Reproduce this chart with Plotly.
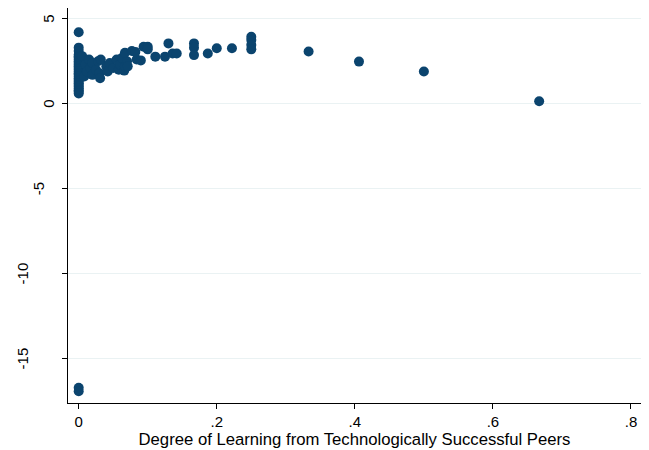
import plotly.graph_objects as go

# x: degree of learning from technologically successful peers; y: outcome
x0_vals = [0.0] * 29
y0_vals = [4.2, 3.3, 3.1, 2.9, 2.8, 2.7, 2.6, 2.5, 2.4, 2.3, 2.2, 2.1, 2.0, 1.9,
           1.8, 1.7, 1.6, 1.5, 1.4, 1.3, 1.2, 1.1, 1.0, 0.9, 0.8, 0.7, 0.6,
           -16.7, -16.9]

x_rest = [0.005, 0.008, 0.01, 0.012, 0.015, 0.017, 0.02, 0.02,
          0.025, 0.028, 0.03, 0.032, 0.031, 0.04, 0.042, 0.045, 0.05,
          0.055, 0.058, 0.06, 0.063, 0.066, 0.067, 0.07, 0.067, 0.071,
          0.077, 0.082, 0.084, 0.09, 0.094, 0.1, 0.1,
          0.111, 0.125, 0.13, 0.136, 0.142, 0.167, 0.167, 0.167,
          0.187, 0.2, 0.222, 0.25, 0.25, 0.25, 0.25,
          0.333, 0.406, 0.5, 0.667]
y_rest = [2.8, 1.6, 2.3, 1.9, 2.6, 2.1, 1.7, 2.4,
          2.0, 2.5, 1.8, 2.6, 1.5, 2.2, 1.9, 2.4, 2.1,
          2.6, 2.0, 2.3, 2.7, 1.95, 2.2, 2.5, 3.0, 2.2,
          3.1, 3.05, 2.6, 2.55, 3.35, 3.35, 3.2,
          2.77, 2.77, 3.55, 2.96, 2.96, 3.55, 3.3, 2.86,
          2.96, 3.26, 3.26, 3.94, 3.75, 3.45, 3.2,
          3.07, 2.48, 1.9, 0.15]

x_vals = x0_vals + x_rest
y_vals = y0_vals + y_rest

x_ticks = [0, 0.2, 0.4, 0.6, 0.8]
x_ticklabels = ["0", ".2", ".4", ".6", ".8"]
y_ticks = [-15, -10, -5, 0, 5]
y_ticklabels = ["-15", "-10", "-5", "0", "5"]

# horizontal offset of rotated y labels from the axis, by label length (Stata style)
label_offset = {1: 19, 2: 29.5, 3: 45.5}

fig = go.Figure()
fig.add_trace(go.Scatter(
    x=x_vals, y=y_vals, mode="markers",
    marker=dict(color="#0b446e", size=10, line=dict(width=0)),
    showlegend=False,
))

tick_font = dict(family="Liberation Sans, Arial, sans-serif", size=15, color="black")
title_font = dict(family="Liberation Sans, Arial, sans-serif", size=16.7, color="black")

for v, t in zip(y_ticks, y_ticklabels):
    fig.add_annotation(
        x=0, xref="paper", y=v, yref="y", text=t, showarrow=False,
        textangle=-90, xanchor="center", yanchor="middle",
        xshift=-label_offset[len(t)], font=tick_font,
    )

fig.update_layout(
    width=641, height=442,
    margin=dict(l=60, r=8, t=0, b=47),
    paper_bgcolor="white", plot_bgcolor="white",
    font=tick_font,
    xaxis=dict(
        range=[-0.0155, 0.8145], tickvals=x_ticks, ticktext=x_ticklabels,
        showline=True, linecolor="black", linewidth=1,
        ticks="outside", ticklen=5, tickcolor="black",
        showgrid=False, zeroline=False, automargin=False,
        tickfont=tick_font,
        title=dict(text="Degree of Learning from Technologically Successful Peers",
                   standoff=0, font=title_font),
    ),
    yaxis=dict(
        range=[-17.59, 5.63], tickvals=y_ticks, showticklabels=False,
        showline=True, linecolor="black", linewidth=1,
        ticks="outside", ticklen=5, tickcolor="black",
        automargin=False,
        showgrid=True, gridcolor="#eaf2f3", gridwidth=1,
        zeroline=False,
    ),
)

fig.write_html("out.html")
